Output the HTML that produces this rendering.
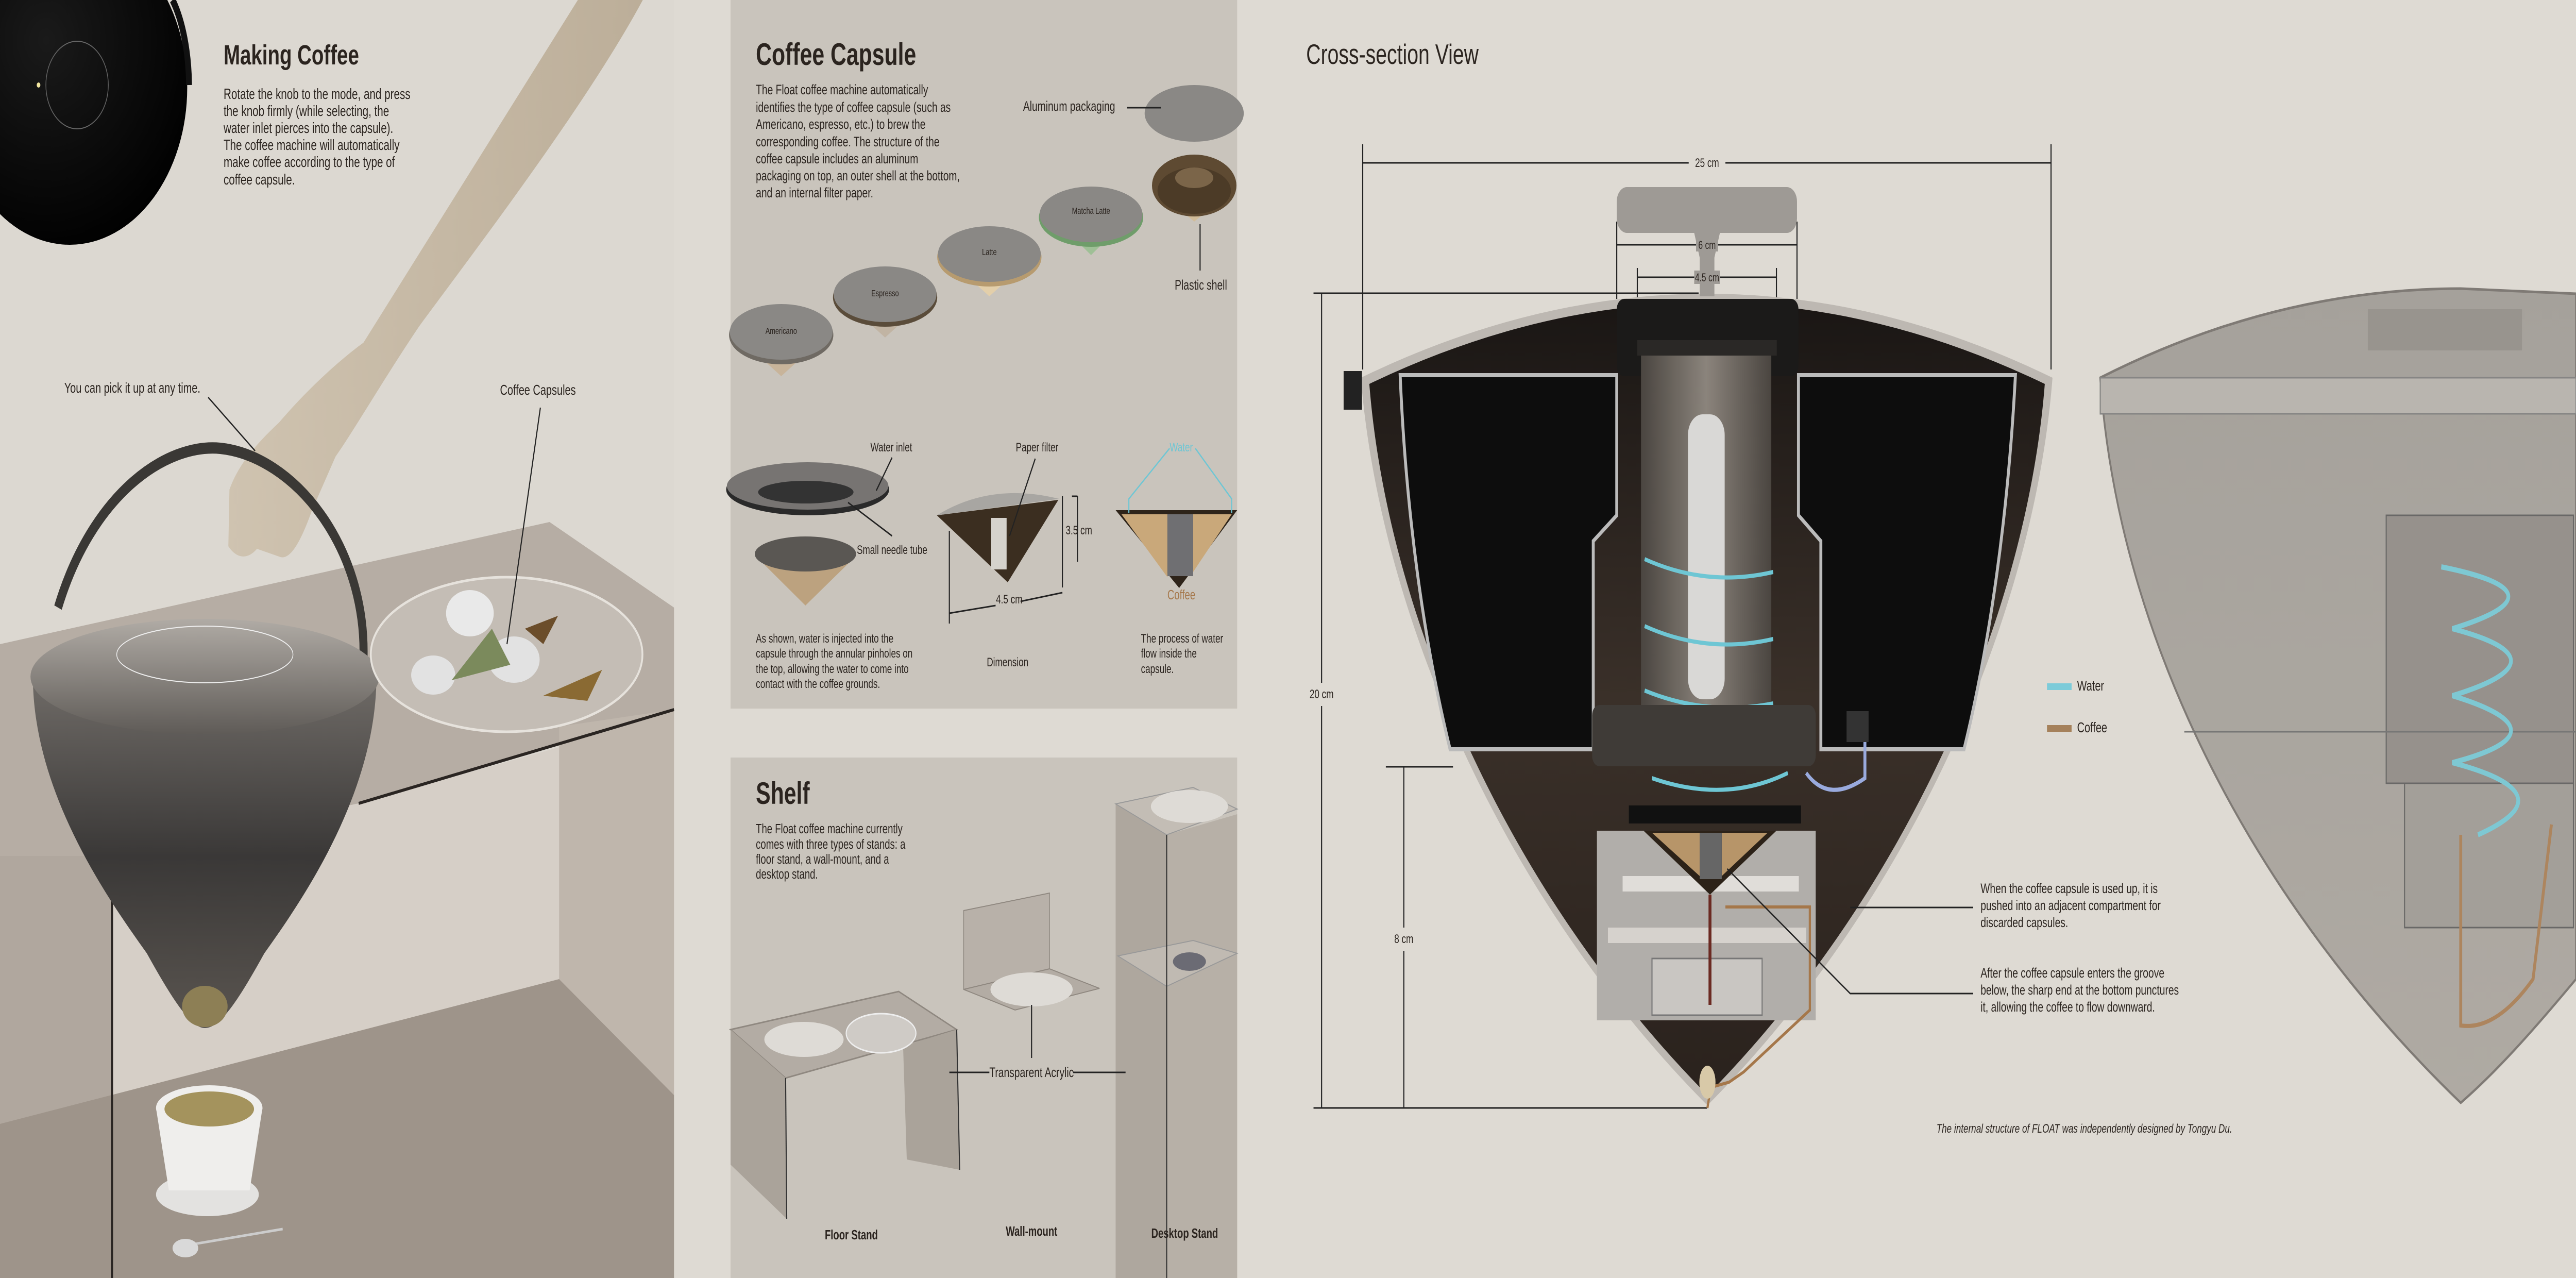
<!DOCTYPE html>
<html><head><meta charset="utf-8"><style>
html,body{margin:0;padding:0;background:#dedad3;width:100%;height:100%;overflow:hidden}
svg{display:block;width:100vw;height:100vh}
text{font-family:"Liberation Sans",sans-serif;fill:#2b241f}
</style></head><body>
<svg viewBox="0 0 7017 2480" preserveAspectRatio="none" xmlns="http://www.w3.org/2000/svg">
<defs>
<linearGradient id="arm" x1="0" y1="0" x2="1" y2="0"><stop offset="0" stop-color="#cfc3b0"/><stop offset="1" stop-color="#bcae99"/></linearGradient>
<linearGradient id="bowl" x1="0" y1="0" x2="0" y2="1"><stop offset="0" stop-color="#6d6965"/><stop offset="0.5" stop-color="#3a3837"/><stop offset="1" stop-color="#5a5550"/></linearGradient>
<linearGradient id="lid" x1="0" y1="0" x2="0" y2="1"><stop offset="0" stop-color="#b0aba5"/><stop offset="1" stop-color="#5f5b57"/></linearGradient>
<linearGradient id="low" x1="0" y1="0" x2="0" y2="1"><stop offset="0" stop-color="#1a1614"/><stop offset="0.5" stop-color="#3a3029"/><stop offset="1" stop-color="#2a221d"/></linearGradient>
<linearGradient id="col" x1="0" y1="0" x2="1" y2="0"><stop offset="0" stop-color="#4a4540"/><stop offset="0.5" stop-color="#8b847c"/><stop offset="1" stop-color="#4a4540"/></linearGradient>
<radialGradient id="knob" cx="0.4" cy="0.35" r="0.7"><stop offset="0" stop-color="#1a1a1a"/><stop offset="1" stop-color="#000"/></radialGradient>
<linearGradient id="ghost" x1="0" y1="0" x2="0" y2="1"><stop offset="0" stop-color="#9c9892"/><stop offset="1" stop-color="#a7a29b"/></linearGradient>
</defs>
<rect x="0" y="0" width="7017" height="2480" fill="#dedad3"/>

<!-- ========== LEFT PHOTO PANEL ========== -->
<rect x="0" y="0" width="1836" height="2480" fill="#dcd8d1"/>
<polygon points="0,1250 1497,1013 1836,1179 1836,1377 977,1559 305,1661 0,1661" fill="#b6ada4"/>
<rect x="0" y="1661" width="305" height="820" fill="#b0a79e"/>
<polygon points="305,1661 977,1559 1523,1450 1523,1900 305,2140" fill="#d6cfc7"/>
<polygon points="1523,1410 1836,1377 1836,2125 1523,1900" fill="#bfb6ac"/>
<polygon points="0,2181 1523,1900 1836,2125 1836,2480 0,2480" fill="#9e948a"/>
<line x1="977" y1="1559" x2="1836" y2="1377" stroke="#2a2522" stroke-width="6"/>
<line x1="305" y1="1661" x2="305" y2="2480" stroke="#2a2522" stroke-width="6"/>
<ellipse cx="190" cy="170" rx="320" ry="305" fill="url(#knob)"/>
<path d="M470 0 A120 220 0 0 1 515 165" stroke="#111" stroke-width="16" fill="none"/>
<ellipse cx="210" cy="165" rx="85" ry="85" stroke="#666" stroke-width="2" fill="none"/>
<circle cx="105" cy="165" r="5" fill="#f3e7a0"/>
<!-- arm -->
<path d="M1574 0 L1751 0 C1600 200 1300 480 1142 633 C1050 730 960 840 914 886 L850 990 C820 1050 790 1090 760 1080 L700 1065 C670 1090 640 1080 622 1060 L625 950 C650 900 700 860 760 820 C880 720 990 665 990 665 Z" fill="url(#arm)"/>
<!-- handle -->
<path d="M158 1179 C250 960 450 860 600 870 C800 885 1000 1060 990 1280" stroke="#3a3835" stroke-width="22" fill="none"/>
<!-- bowl -->
<path d="M90 1330 C100 1550 300 1750 400 1850 C470 1940 520 1995 558 1995 C600 1995 650 1940 720 1850 C820 1750 1015 1550 1025 1330 Z" fill="url(#bowl)"/>
<ellipse cx="558" cy="1313" rx="475" ry="112" fill="url(#lid)"/>
<ellipse cx="558" cy="1270" rx="240" ry="55" fill="none" stroke="#eee" stroke-width="2"/>
<ellipse cx="558" cy="1953" rx="62" ry="40" fill="#8d7f55"/>
<!-- capsule bowl -->
<ellipse cx="1380" cy="1270" rx="370" ry="150" fill="#c4bdb5" stroke="#e6e2dc" stroke-width="5"/>
<ellipse cx="1280" cy="1190" rx="65" ry="45" fill="#e9e9e9"/>
<ellipse cx="1400" cy="1280" rx="70" ry="45" fill="#e2e2e2"/>
<ellipse cx="1180" cy="1310" rx="60" ry="38" fill="#e2e2e2"/>
<polygon points="1230,1320 1340,1220 1390,1290" fill="#7b8a5c"/>
<polygon points="1430,1220 1520,1195 1480,1250" fill="#6b4d2a"/>
<polygon points="1480,1350 1640,1300 1600,1360" fill="#8a6a33"/>
<!-- cup -->
<ellipse cx="565" cy="2318" rx="140" ry="42" fill="#e3e2e0"/>
<path d="M425 2150 L460 2310 L680 2310 L715 2150 Z" fill="#efeeec"/>
<ellipse cx="570" cy="2150" rx="145" ry="44" fill="#efeeec"/>
<ellipse cx="570" cy="2152" rx="122" ry="34" fill="#a4935d"/>
<line x1="480" y1="2420" x2="770" y2="2385" stroke="#ccc" stroke-width="5"/>
<ellipse cx="505" cy="2422" rx="35" ry="18" fill="#d9d9d9"/>
<text x="609" y="125" font-size="54" font-weight="bold">Making Coffee</text>
<g font-size="29">
<text x="609" y="192">Rotate the knob to the mode, and press</text>
<text x="609" y="225">the knob firmly (while selecting, the</text>
<text x="609" y="258">water inlet pierces into the capsule).</text>
<text x="609" y="291">The coffee machine will automatically</text>
<text x="609" y="324">make coffee according to the type of</text>
<text x="609" y="358">coffee capsule.</text>
</g>
<text x="175" y="762" font-size="28">You can pick it up at any time.</text>
<line x1="567" y1="771" x2="695" y2="875" stroke="#222" stroke-width="3"/>
<text x="1362" y="766" font-size="28">Coffee Capsules</text>
<line x1="1472" y1="791" x2="1381" y2="1250" stroke="#222" stroke-width="3"/>

<!-- ========== COFFEE CAPSULE PANEL ========== -->
<rect x="1990" y="0" width="1380" height="1375" fill="#c9c4bc"/>
<text x="2059" y="126" font-size="60" font-weight="bold">Coffee Capsule</text>
<g font-size="27">
<text x="2059" y="183">The Float coffee machine automatically</text>
<text x="2059" y="217">identifies the type of coffee capsule (such as</text>
<text x="2059" y="250">Americano, espresso, etc.) to brew the</text>
<text x="2059" y="284">corresponding coffee. The structure of the</text>
<text x="2059" y="317">coffee capsule includes an aluminum</text>
<text x="2059" y="350">packaging on top, an outer shell at the bottom,</text>
<text x="2059" y="383">and an internal filter paper.</text>
</g>
<g>
<polygon points="2020,660 2236,660 2128,730" fill="#c8b49a"/>
<ellipse cx="2128" cy="650" rx="142" ry="57" fill="#6f6a63"/><ellipse cx="2128" cy="644" rx="140" ry="54" fill="#8a8885"/>
<text x="2128" y="648" font-size="18" text-anchor="middle" fill="#444">Americano</text>
<polygon points="2303,585 2519,585 2411,655" fill="#c1b4a3"/>
<ellipse cx="2411" cy="577" rx="142" ry="57" fill="#5a4c3a"/><ellipse cx="2411" cy="571" rx="140" ry="54" fill="#8a8885"/>
<text x="2411" y="575" font-size="18" text-anchor="middle" fill="#444">Espresso</text>
<polygon points="2587,505 2803,505 2695,575" fill="#e3cfaa"/>
<ellipse cx="2695" cy="499" rx="142" ry="57" fill="#b79b6f"/><ellipse cx="2695" cy="493" rx="140" ry="54" fill="#8a8885"/>
<text x="2695" y="495" font-size="18" text-anchor="middle" fill="#444">Latte</text>
<polygon points="2880,430 3064,430 2972,495" fill="#9fc096"/>
<ellipse cx="2972" cy="422" rx="142" ry="57" fill="#6f9d6a"/><ellipse cx="2972" cy="416" rx="140" ry="54" fill="#8a8885"/>
<text x="2972" y="415" font-size="18" text-anchor="middle" fill="#444">Matcha Latte</text>
<ellipse cx="3253" cy="220" rx="135" ry="55" fill="#8a8885"/>
<polygon points="3170,380 3340,380 3253,430" fill="#d1bc99"/>
<ellipse cx="3253" cy="360" rx="115" ry="60" fill="#5e4a32"/>
<ellipse cx="3253" cy="370" rx="100" ry="45" fill="#4c3b27"/>
<ellipse cx="3253" cy="345" rx="52" ry="20" fill="#7b6549"/>
</g>
<text x="2787" y="215" font-size="27">Aluminum packaging</text>
<line x1="3070" y1="209" x2="3162" y2="209" stroke="#222" stroke-width="3"/>
<line x1="3269" y1="435" x2="3269" y2="525" stroke="#222" stroke-width="3"/>
<text x="3200" y="562" font-size="27">Plastic shell</text>
<ellipse cx="2200" cy="950" rx="222" ry="50" fill="#2a2a2a"/>
<ellipse cx="2200" cy="943" rx="220" ry="46" fill="#777472"/>
<ellipse cx="2195" cy="955" rx="130" ry="22" fill="#333"/>
<polygon points="2060,1080 2330,1080 2194,1175" fill="#bca27f"/>
<ellipse cx="2194" cy="1075" rx="138" ry="34" fill="#5a5753"/>
<text x="2371" y="876" font-size="24">Water inlet</text>
<line x1="2430" y1="888" x2="2387" y2="952" stroke="#222" stroke-width="3"/>
<text x="2334" y="1075" font-size="24">Small needle tube</text>
<line x1="2310" y1="975" x2="2430" y2="1040" stroke="#222" stroke-width="3"/>
<polygon points="2552,1000 2883,970 2745,1130" fill="#3b2e20"/>
<path d="M2552,1000 Q2700,935 2885,968 Z" fill="#a8a6a2"/>
<rect x="2700" y="1005" width="42" height="100" fill="#d5d2cc"/>
<line x1="2586" y1="1030" x2="2586" y2="1210" stroke="#222" stroke-width="3"/>
<line x1="2894" y1="963" x2="2894" y2="1140" stroke="#222" stroke-width="3"/>
<line x1="2586" y1="1190" x2="2712" y2="1175" stroke="#222" stroke-width="3"/>
<line x1="2780" y1="1167" x2="2894" y2="1150" stroke="#222" stroke-width="3"/>
<line x1="2920" y1="963" x2="2935" y2="963" stroke="#222" stroke-width="3"/>
<line x1="2935" y1="963" x2="2935" y2="1090" stroke="#222" stroke-width="3"/>
<text x="2903" y="1037" font-size="24">3.5 cm</text>
<text x="2713" y="1171" font-size="24">4.5 cm</text>
<text x="2767" y="876" font-size="24">Paper filter</text>
<line x1="2820" y1="890" x2="2750" y2="1040" stroke="#222" stroke-width="3"/>
<text x="2688" y="1293" font-size="24">Dimension</text>
<polygon points="3039,990 3370,990 3212,1141" fill="#2e241a"/>
<polygon points="3055,998 3180,998 3180,1120" fill="#c9a87a"/>
<polygon points="3250,998 3355,998 3250,1110" fill="#c9a87a"/>
<rect x="3180" y="998" width="70" height="120" fill="#6f6f72"/>
<polyline points="3075,995 3075,968 3186,870" stroke="#6ec6d4" stroke-width="3" fill="none"/>
<polyline points="3355,995 3355,968 3256,870" stroke="#6ec6d4" stroke-width="3" fill="none"/>
<text x="3186" y="876" font-size="24" style="fill:#6ec6d4">Water</text>
<text x="3180" y="1163" font-size="26" style="fill:#a5774a">Coffee</text>
<g font-size="24">
<text x="2059" y="1247">As shown, water is injected into the</text>
<text x="2059" y="1276">capsule through the annular pinholes on</text>
<text x="2059" y="1306">the top, allowing the water to come into</text>
<text x="2059" y="1335">contact with the coffee grounds.</text>
<text x="3108" y="1247">The process of water</text>
<text x="3108" y="1276">flow inside the</text>
<text x="3108" y="1306">capsule.</text>
</g>

<!-- ========== SHELF PANEL ========== -->
<rect x="1990" y="1470" width="1380" height="1010" fill="#c9c4bc"/>
<text x="2059" y="1560" font-size="60" font-weight="bold">Shelf</text>
<g font-size="26">
<text x="2059" y="1617">The Float coffee machine currently</text>
<text x="2059" y="1647">comes with three types of stands: a</text>
<text x="2059" y="1676">floor stand, a wall-mount, and a</text>
<text x="2059" y="1705">desktop stand.</text>
</g>
<polygon points="1990,1998 2448,1924 2606,1998 2140,2092" fill="#b3aca4" stroke="#8f8880" stroke-width="3"/>
<polygon points="1990,1998 2140,2092 2143,2365 1990,2260" fill="#aaa39a"/>
<polygon points="2460,2030 2606,1998 2614,2270 2470,2250" fill="#aaa39a"/>
<line x1="2140" y1="2092" x2="2143" y2="2365" stroke="#333" stroke-width="3"/>
<line x1="2606" y1="1998" x2="2614" y2="2270" stroke="#333" stroke-width="3"/>
<ellipse cx="2190" cy="2017" rx="108" ry="34" fill="#dedbd6"/>
<ellipse cx="2400" cy="2005" rx="95" ry="38" fill="#cfcbc6" stroke="#eee" stroke-width="3"/>
<polygon points="2625,1767 2859,1733 2859,1880 2625,1920" fill="#b8b1a9" stroke="#8f8880" stroke-width="2"/>
<polygon points="2625,1920 2859,1880 2995,1918 2765,1960" fill="#b3aca4" stroke="#8f8880" stroke-width="2"/>
<ellipse cx="2810" cy="1920" rx="112" ry="33" fill="#dedbd6"/>
<line x1="2810" y1="1950" x2="2810" y2="2053" stroke="#222" stroke-width="3"/>
<polygon points="3039,1560 3178,1620 3178,2480 3039,2480" fill="#aea79e"/>
<polygon points="3178,1620 3370,1580 3370,2480 3178,2480" fill="#b7b0a7"/>
<polygon points="3039,1560 3250,1528 3370,1570 3178,1620" fill="#c3bdb5" stroke="#999" stroke-width="2"/>
<ellipse cx="3240" cy="1565" rx="105" ry="32" fill="#dedbd6"/>
<polygon points="3045,1855 3250,1825 3370,1850 3178,1914" fill="#c0bab2" stroke="#999" stroke-width="2"/>
<ellipse cx="3240" cy="1866" rx="45" ry="18" fill="#6b6b74"/>
<line x1="3178" y1="1620" x2="3178" y2="2480" stroke="#333" stroke-width="3"/>
<line x1="2586" y1="2081" x2="2695" y2="2081" stroke="#222" stroke-width="3"/>
<line x1="2923" y1="2081" x2="3066" y2="2081" stroke="#222" stroke-width="3"/>
<text x="2810" y="2090" font-size="27" text-anchor="middle">Transparent Acrylic</text>
<g font-size="26" font-weight="bold" text-anchor="middle">
<text x="2319" y="2405">Floor Stand</text>
<text x="2810" y="2398">Wall-mount</text>
<text x="3227" y="2402">Desktop Stand</text>
</g>

<!-- ========== CROSS-SECTION ========== -->
<text x="3558" y="124" font-size="55">Cross-section View</text>
<g opacity="0.85">
<path d="M5721 733 Q6200 560 6703 560 L7017 570 L7017 1900 C6900 2000 6800 2080 6703 2140 C6150 1760 5770 1250 5721 733 Z" fill="url(#ghost)" stroke="#6f6a65" stroke-width="5"/>
<rect x="5721" y="733" width="1296" height="70" fill="#b3afa9" stroke="#777" stroke-width="3"/>
<rect x="6450" y="600" width="420" height="80" fill="#8c8883"/>
<rect x="6500" y="1000" width="510" height="520" fill="#8a8580" stroke="#555" stroke-width="3"/>
<rect x="6550" y="1520" width="460" height="280" fill="#999590" stroke="#555" stroke-width="3"/>
<line x1="5950" y1="1420" x2="7017" y2="1420" stroke="#666" stroke-width="3"/>
<path d="M6650 1100 Q7000 1150 6680 1220 Q7000 1280 6680 1350 Q7000 1420 6680 1480 Q7000 1540 6750 1620" stroke="#6ec6d4" stroke-width="10" fill="none"/>
<path d="M6703 1620 L6703 1990 Q6800 2000 6900 1900 L6950 1600" stroke="#a5774a" stroke-width="8" fill="none"/>
</g>
<g stroke="#222" stroke-width="3" fill="none">
<line x1="3712" y1="280" x2="3712" y2="717"/><line x1="5587" y1="280" x2="5587" y2="717"/>
<line x1="3712" y1="316" x2="4600" y2="316"/><line x1="4700" y1="316" x2="5587" y2="316"/>
<line x1="3578" y1="569" x2="4627" y2="569"/>
<line x1="3600" y1="569" x2="3600" y2="1325"/><line x1="3600" y1="1370" x2="3600" y2="2150"/>
<line x1="3578" y1="2150" x2="4650" y2="2150"/>
<line x1="3775" y1="1488" x2="3958" y2="1488"/>
<line x1="3824" y1="1488" x2="3824" y2="1800"/><line x1="3824" y1="1845" x2="3824" y2="2150"/>
<line x1="4404" y1="430" x2="4404" y2="580"/><line x1="4895" y1="430" x2="4895" y2="580"/>
<line x1="4460" y1="520" x2="4460" y2="690"/><line x1="4839" y1="520" x2="4839" y2="690"/>
</g>
<text x="4650" y="324" font-size="24" text-anchor="middle">25 cm</text>
<text x="3600" y="1355" font-size="24" text-anchor="middle">20 cm</text>
<text x="3824" y="1830" font-size="24" text-anchor="middle">8 cm</text>
<path d="M3707 733 Q4651 407 5591 733 C5540 1200 5200 1750 4651 2145 C4100 1750 3760 1200 3707 733 Z" fill="#bdb8b2"/>
<path d="M3730 745 Q4651 430 5570 745 C5520 1200 5190 1735 4651 2125 C4110 1735 3780 1200 3730 745 Z" fill="url(#low)"/>
<rect x="3660" y="720" width="50" height="75" fill="#222"/>
<path d="M3814 728 L4404 728 L4404 1000 L4340 1050 L4340 1454 L3950 1454 C3880 1250 3830 1000 3814 728 Z" fill="#0d0d0d" stroke="#bbb" stroke-width="8"/>
<path d="M4899 728 L5490 728 C5470 1000 5420 1250 5350 1454 L4960 1454 L4960 1050 L4899 1000 Z" fill="#0d0d0d" stroke="#bbb" stroke-width="8"/>
<rect x="4404" y="580" width="495" height="150" rx="20" fill="#1b1a19"/>
<rect x="4460" y="660" width="380" height="30" fill="#2a2826"/>
<rect x="4470" y="690" width="355" height="690" fill="url(#col)"/>
<rect x="4598" y="804" width="100" height="553" rx="40" fill="#d9d8d6"/>
<g stroke="#6ec6d4" stroke-width="8" fill="none">
<path d="M4480 1085 Q4650 1140 4830 1110"/>
<path d="M4480 1215 Q4650 1270 4830 1240"/>
<path d="M4480 1340 Q4650 1390 4830 1365"/>
<path d="M4500 1510 Q4700 1560 4870 1500"/>
</g>
<rect x="4337" y="1368" width="609" height="119" rx="20" fill="#3f3b37"/>
<rect x="5030" y="1380" width="60" height="60" fill="#333"/>
<path d="M4920 1500 Q4980 1560 5080 1510 L5080 1440" stroke="#9ad" stroke-width="8" fill="none"/>
<rect x="4350" y="1612" width="596" height="368" fill="#b1aeaa"/>
<rect x="4420" y="1700" width="480" height="30" fill="#e0ddd9"/>
<rect x="4380" y="1800" width="540" height="30" fill="#d6d2cd"/>
<rect x="4500" y="1860" width="300" height="110" fill="#c9c6c2" stroke="#777" stroke-width="3"/>
<rect x="4437" y="1563" width="469" height="35" fill="#111"/>
<polygon points="4477,1612 4839,1612 4658,1736" fill="#2c2218"/>
<polygon points="4500,1616 4630,1616 4630,1700" fill="#b79569"/>
<polygon points="4690,1616 4815,1616 4690,1700" fill="#b79569"/>
<rect x="4630" y="1616" width="60" height="90" fill="#666"/>
<line x1="4658" y1="1736" x2="4658" y2="1950" stroke="#6b2a22" stroke-width="8"/>
<path d="M4700 1760 L4930 1760 L4930 1960 L4750 2080 L4710 2100 L4660 2110 L4651 2150" stroke="#a5774a" stroke-width="6" fill="none"/>
<ellipse cx="4651" cy="2100" rx="22" ry="32" fill="#d8c9a8"/>
<rect x="5576" y="1326" width="67" height="13" fill="#7ccbd9"/>
<text x="5658" y="1340" font-size="28">Water</text>
<rect x="5576" y="1407" width="67" height="13" fill="#a5815b"/>
<text x="5658" y="1421" font-size="28">Coffee</text>
<line x1="5040" y1="1761" x2="5375" y2="1761" stroke="#222" stroke-width="3"/>
<polyline points="4705,1686 5040,1928 5375,1928" stroke="#222" stroke-width="3" fill="none"/>
<g font-size="27">
<text x="5395" y="1733">When the coffee capsule is used up, it is</text>
<text x="5395" y="1766">pushed into an adjacent compartment for</text>
<text x="5395" y="1799">discarded capsules.</text>
<text x="5395" y="1897">After the coffee capsule enters the groove</text>
<text x="5395" y="1930">below, the sharp end at the bottom punctures</text>
<text x="5395" y="1963">it, allowing the coffee to flow downward.</text>
</g>
<text x="5275" y="2198" font-size="24" font-style="italic">The internal structure of FLOAT was independently designed by Tongyu Du.</text>
<rect x="4404" y="363" width="491" height="89" rx="28" fill="#9e9a95"/>
<path d="M4615 452 L4685 452 L4670 500 L4670 575 L4630 575 L4630 500 Z" fill="#9e9a95"/>
<line x1="4404" y1="475" x2="4895" y2="475" stroke="#222" stroke-width="3"/>
<line x1="4460" y1="538" x2="4839" y2="538" stroke="#222" stroke-width="3"/>
<rect x="4620" y="462" width="60" height="26" fill="#9e9a95"/>
<text x="4650" y="483" font-size="22" text-anchor="middle">6 cm</text>
<rect x="4615" y="525" width="70" height="26" fill="#9e9a95"/>
<text x="4650" y="546" font-size="22" text-anchor="middle">4.5 cm</text>
</svg>
</body></html>
